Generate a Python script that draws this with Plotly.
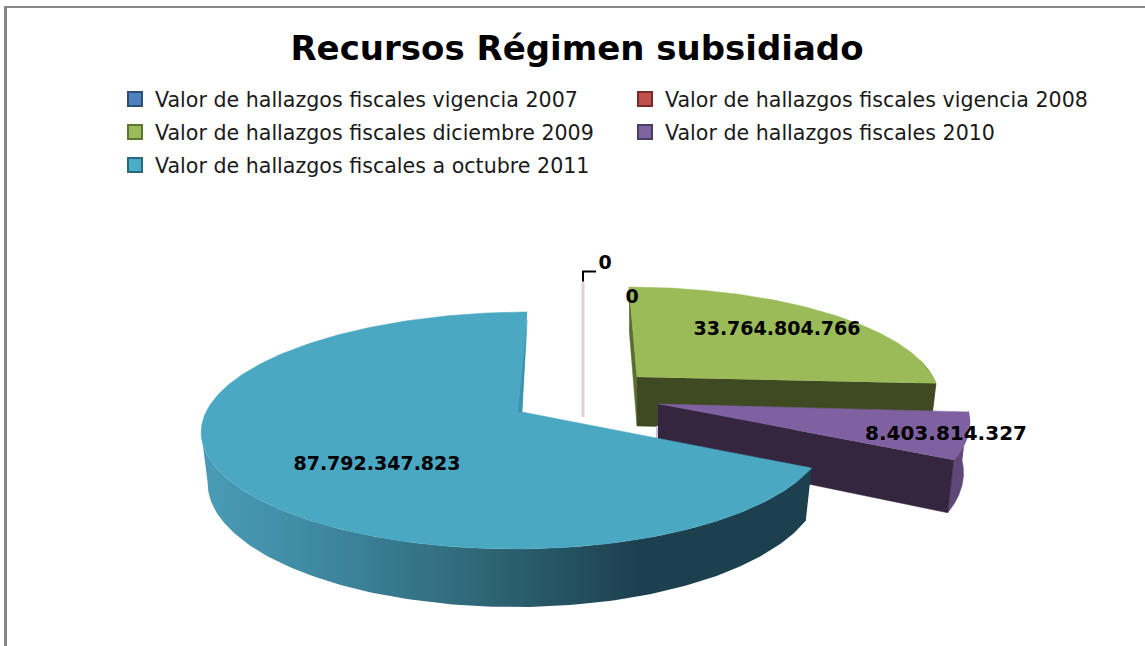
import numpy as np
import plotly.graph_objects as go

# ---- data ----
TITLE = "Recursos Régimen subsidiado"
names = ["Valor de hallazgos fiscales vigencia 2007",
         "Valor de hallazgos fiscales vigencia 2008",
         "Valor de hallazgos fiscales diciembre 2009",
         "Valor de hallazgos fiscales 2010",
         "Valor de hallazgos fiscales a octubre 2011"]
values = [0, 0, 33764804766, 8403814327, 87792347823]
swatch = ["#4F81BD", "#C0504D", "#9BBB59", "#8064A2", "#4BACC6"]
swatch_line = ["#2C4D75", "#772C2A", "#5F7530", "#4D3B62", "#276A7C"]

# ---- style / projection ----
K, T, SQ = 0.156, 49, 0.98   # perspective, wall height, bottom-plane x scale
BLUE = dict(ax=522, ay=412, A=310, B=115.6, c=6, q=-6)
GREEN = dict(ax=637, ay=377, A=296, B=104, c=-9.2, q=0)
PURPLE = dict(ax=658, ay=404, A=308, B=115.6, c=0, q=0)
ZERO = dict(ax=583, ay=368, A=300, B=100, c=0, q=0)

total = sum(values)
edges = np.concatenate([[0], np.cumsum(values)]) / total * 360


def pt(g, deg, r=1.0, low=False):
    t = np.radians(np.asarray(deg, dtype=float))
    X, Y = r * np.sin(t), r * np.cos(t)
    d = 1 + K * Y
    sx = (g["A"] * X + g["c"] * Y + g["q"] * X * X) / d
    sy = -g["B"] * Y / d
    if low:
        return g["ax"] + sx * SQ, g["ay"] + sy + T / d
    return g["ax"] + sx, g["ay"] + sy


def arc(g, a, b, low=False, n=140):
    return pt(g, np.linspace(a, b, n), low=low)


def apex(g, low=False):
    return pt(g, [0.0], r=0.0, low=low)


def poly(fig, xs, ys, color, **kw):
    fig.add_trace(go.Scatter(x=np.concatenate(xs), y=np.concatenate(ys), mode="lines",
                             fill="toself", fillcolor=color,
                             line=dict(color=color, width=0.5),
                             showlegend=False, hoverinfo="skip", **kw))


fig = go.Figure()
ax_ = dict(visible=False, fixedrange=True)

# zero-value slices: a pale wall line
zx0, zy0 = pt(ZERO, [edges[2]])
zx1, zy1 = pt(ZERO, [edges[2]], r=0.0, low=True)
fig.add_trace(go.Scatter(x=[zx0[0], zx1[0]], y=[zy0[0], zy1[0]], mode="lines",
                         line=dict(color="#E3D0D0", width=3), showlegend=False, hoverinfo="skip"))
# leader line of the zero label
fig.add_trace(go.Scatter(x=[zx0[0], zx0[0], zx0[0] + 13], y=[zy0[0], zy0[0] - 10, zy0[0] - 10],
                         mode="lines", line=dict(color="#000000", width=2), showlegend=False, hoverinfo="skip"))

# green slice
a, b = edges[2], edges[3]
tx, ty = arc(GREEN, a, b)
lx, ly = arc(GREEN, a, b, low=True)
px, py = apex(GREEN)
plx, ply = apex(GREEN, low=True)
poly(fig, [tx[:1], px, plx, lx[:1]], [ty[:1], py, ply, ly[:1]], "#5B6C30")
poly(fig, [tx[-20:], lx[-20:][::-1]], [ty[-20:], ly[-20:][::-1]], "#56682E")
poly(fig, [px, tx[-1:], lx[-1:], plx], [py, ty[-1:], ly[-1:], ply], "#3F4A22")
poly(fig, [px, tx], [py, ty], "#9BBB59")

# purple slice
a, b = edges[3], edges[4]
tx, ty = arc(PURPLE, a, b)
lx, ly = arc(PURPLE, a, b, low=True)
px, py = apex(PURPLE)
plx, ply = apex(PURPLE, low=True)
fig.add_trace(go.Scatter(x=[px[0] - 1, px[0] - 1], y=[py[0] + 22, ply[0] - 12], mode="lines",
                         line=dict(color="#CDBEDC", width=2), showlegend=False, hoverinfo="skip"))
poly(fig, [tx, lx[::-1]], [ty, ly[::-1]], "#5E4878")
poly(fig, [px, tx[-1:], lx[-1:], plx], [py, ty[-1:], ly[-1:], ply], "#352640")
poly(fig, [px, tx], [py, ty], "#7F60A0")

# blue slice
a, b = edges[4], edges[5]
tx, ty = arc(BLUE, a, b, n=260)
px, py = apex(BLUE)
wlx, wly = arc(BLUE, a, b, low=True, n=260)
end = int(np.argmin(tx))
fig.add_trace(go.Scatter(
    x=np.concatenate([tx[:end + 1], wlx[:end + 1][::-1]]), y=np.concatenate([ty[:end + 1], wly[:end + 1][::-1]]),
    mode="lines", line=dict(width=0, color="rgba(0,0,0,0)"), fill="toself",
    fillgradient=dict(type="horizontal", start=200, stop=812,
                      colorscale=[[0, "#4A9CB6"], [0.18, "#3F8AA3"], [0.45, "#2F6878"],
                                  [0.72, "#1C404E"], [1, "#1C404E"]]),
    showlegend=False, hoverinfo="skip"))
poly(fig, [px, tx], [py, ty], "#4AA8C3")
# narrow shaded cut face at the end of the blue slice
poly(fig, [tx[-1:], px, px - 4], [ty[-1:] + 8, py, py], "#3C93AC")

# value labels
fmt = [f"{v:,}".replace(",", ".") for v in values]
lab_x = [605, 632, 777, 946, 377]
lab_y = [264, 298, 330, 435, 465]
lab_size = [19, 19, 19, 20, 19]
fig.add_trace(go.Scatter(x=lab_x, y=lab_y, text=fmt, mode="text",
                         textfont=dict(family="DejaVu Sans", size=lab_size, color="#000000", weight="bold"),
                         textposition="middle center", showlegend=False, hoverinfo="skip", cliponaxis=False))

# legend entries
legend_of = ["legend", "legend", "legend2", "legend2", "legend3"]
for n, c, cl, lg in zip(names, swatch, swatch_line, legend_of):
    fig.add_trace(go.Scatter(x=[None], y=[None], name=n, mode="markers", legend=lg,
                             marker=dict(symbol="square", size=14, color=c, line=dict(color=cl, width=2))))

LEG = dict(orientation="h", xanchor="left", yanchor="middle", x=115 / 1145,
           entrywidth=465, entrywidthmode="pixels", bgcolor="rgba(0,0,0,0)",
           font=dict(family="DejaVu Sans", size=20.6, color="#1A1A1A"), itemclick=False, itemdoubleclick=False)

fig.update_layout(
    width=1145, height=646, margin=dict(l=0, r=0, t=0, b=0),
    paper_bgcolor="white", plot_bgcolor="white",
    xaxis=dict(range=[0, 1145], **ax_), yaxis=dict(range=[646, 0], **ax_),
    title=dict(text=TITLE, x=577 / 1145, xanchor="center", y=1 - 48 / 646, yanchor="middle",
               font=dict(family="DejaVu Sans", size=34, color="#000000", weight="bold")),
    legend=dict(y=1 - 99 / 646, **LEG),
    legend2=dict(y=1 - 132 / 646, **LEG),
    legend3=dict(y=1 - 165 / 646, **LEG),
    shapes=[dict(type="line", xref="x", yref="y", x0=5.5, x1=5.5, y0=6, y1=646, line=dict(color="#878787", width=3)),
            dict(type="line", xref="x", yref="y", x0=4, x1=1145, y0=7, y1=7, line=dict(color="#878787", width=2))],
    showlegend=True,
)
fig.write_html("out.html", config=dict(displayModeBar=False),
               post_script="document.body.style.margin='0';document.body.style.overflow='hidden';")
